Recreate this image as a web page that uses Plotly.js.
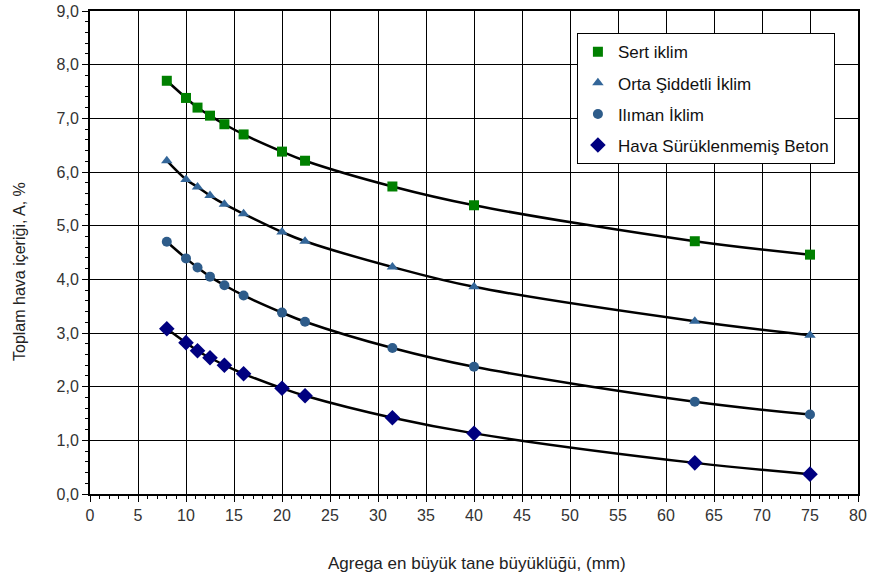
<!DOCTYPE html>
<html>
<head>
<meta charset="utf-8">
<script src="https://cdn.plot.ly/plotly-3.0.1.min.js"></script>
<style>html,body{margin:0;padding:0;background:#fff;}#chart{width:879px;height:581px;}</style>
</head>
<body>
<div id="chart"></div>
<script>
const xSizes = [8, 10, 11.2, 12.5, 14, 16, 20, 22.4, 31.5, 40, 63, 75];
const sertIklim = [7.70, 7.38, 7.20, 7.05, 6.89, 6.70, 6.38, 6.21, 5.73, 5.38, 4.71, 4.46];
const ortaIklim = [6.21, 5.86, 5.72, 5.56, 5.40, 5.22, 4.88, 4.71, 4.23, 3.86, 3.22, 2.96];
const ilimanIklim = [4.70, 4.39, 4.22, 4.05, 3.89, 3.70, 3.38, 3.21, 2.72, 2.37, 1.72, 1.48];
const havaBeton = [3.08, 2.82, 2.67, 2.54, 2.40, 2.24, 1.97, 1.83, 1.42, 1.13, 0.58, 0.37];
const seriesNames = ["Sert iklim", "Orta Şiddetli İklim", "Ilıman İklim", "Hava Sürüklenmemiş Beton"];
const xTitle = "Agrega en büyük tane büyüklüğü, (mm)";
const yTitle = "Toplam hava içeriği, A, %";

const seriesData = [sertIklim, ortaIklim, ilimanIklim, havaBeton];
const symbols = ["square", "triangle-up", "circle", "diamond"];
const colors = ["#008000", "#336699", "#2E5C8A", "#000080"];
const sizes = [10, 10, 10, 12];

const traces = [];
seriesData.forEach((ys, i) => {
  traces.push({
    x: xSizes, y: ys, mode: "lines", type: "scatter",
    line: {color: "#000", width: 2.5, shape: "spline", smoothing: 1.0},
    showlegend: false, hoverinfo: "skip"
  });
});
seriesData.forEach((ys, i) => {
  traces.push({
    x: xSizes, y: ys, mode: "markers", type: "scatter", name: seriesNames[i],
    legendgroup: "g" + i,
    marker: {symbol: symbols[i], color: colors[i], size: sizes[i]}
  });
});

const fam = "Liberation Sans, Arial, sans-serif";
const axisFont = {family: fam, size: 16, color: "#333"};

const layout = {
  width: 879, height: 581,
  margin: {l: 90, r: 21, t: 11, b: 87},
  paper_bgcolor: "#fff", plot_bgcolor: "#fff",
  separators: ",.",
  font: {family: fam, size: 16, color: "#222"},
  xaxis: {
    range: [0, 80], dtick: 5, tick0: 0,
    showgrid: true, gridcolor: "#000", gridwidth: 1,
    showline: true, linecolor: "#000", linewidth: 2, mirror: true,
    ticks: "outside", ticklen: 6, tickcolor: "#000", tickwidth: 1,
    minor: {dtick: 1, ticks: "outside", ticklen: 3, tickcolor: "#000", showgrid: false},
    tickfont: axisFont, zeroline: false
  },
  yaxis: {
    range: [0, 9], dtick: 1, tick0: 0, tickformat: ".1f",
    showgrid: true, gridcolor: "#000", gridwidth: 1,
    showline: true, linecolor: "#000", linewidth: 2, mirror: true,
    ticks: "outside", ticklen: 6, tickcolor: "#000", tickwidth: 1,
    minor: {dtick: 0.2, ticks: "outside", ticklen: 3, tickcolor: "#000", showgrid: false},
    tickfont: axisFont, zeroline: false
  },
  annotations: [
    {text: xTitle, xref: "paper", yref: "paper", x: (477 - 90) / 768, y: (494 - 563) / 483,
     xanchor: "center", yanchor: "middle", showarrow: false, font: {family: fam, size: 17, color: "#222"}},
    {text: yTitle, xref: "paper", yref: "paper", x: (19 - 90) / 768, y: (494 - 272) / 483,
     xanchor: "center", yanchor: "middle", textangle: -90, showarrow: false, font: {family: fam, size: 16, color: "#222"}}
  ],
  legend: {
    x: 0.634, y: 0.954, xanchor: "left", yanchor: "top",
    bgcolor: "#fff", bordercolor: "#000", borderwidth: 1,
    font: {family: fam, size: 17, color: "#111"},
    traceorder: "grouped", tracegroupgap: 6,
    itemwidth: 30
  },
  showlegend: true
};

Plotly.newPlot("chart", traces, layout, {displayModeBar: false, staticPlot: true});
</script>
</body>
</html>
